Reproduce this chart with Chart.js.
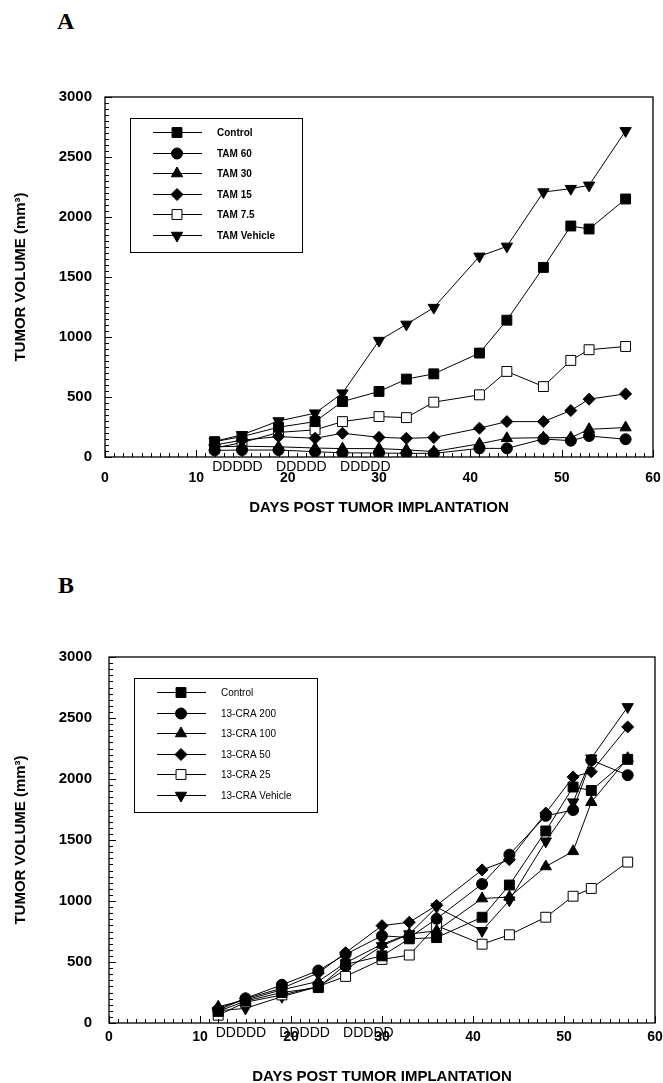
<!DOCTYPE html>
<html>
<head>
<meta charset="utf-8">
<script src="https://cdn.jsdelivr.net/npm/chart.js@4.4.1/dist/chart.umd.min.js"></script>
<style>
  html, body { margin: 0; padding: 0; background: #fff; }
  body { width: 663px; height: 1083px; position: relative; overflow: hidden; }
  .panel-letter { position: absolute; font: bold 24px "Liberation Serif", "Times New Roman", serif; line-height: 24px; color: #000; }
  canvas { position: absolute; left: 0; }
</style>
</head>
<body>
<div class="panel-letter" style="left:57px; top:9px">A</div>
<div class="panel-letter" style="left:58px; top:573px">B</div>
<canvas id="chartA" width="663" height="545" style="top:0"></canvas>
<canvas id="chartB" width="663" height="538" style="top:545px"></canvas>
<script>
// days on which tumour volume was measured (both panels)
const days = [12, 15, 19, 23, 26, 30, 33, 36, 41, 44, 48, 51, 53, 57];
const xTickValues = [0, 10, 20, 30, 40, 50, 60];
const yTickValues = [0, 500, 1000, 1500, 2000, 2500, 3000];
const doseStarts = [12, 19, 26];
const doseLabel = "DDDDD";

// panel A - tamoxifen
const tamLabels = ["Control", "TAM 60", "TAM 30", "TAM 15", "TAM 7.5", "TAM Vehicle"];
const tamControl = [128, 170, 248, 295, 462, 546, 649, 693, 866, 1140, 1580, 1925, 1900, 2150];
const tam60 = [55, 58, 58, 44, 35, 33, 31, 30, 72, 72, 150, 136, 175, 148];
const tam30 = [85, 90, 85, 75, 70, 70, 60, 45, 110, 156, 161, 161, 231, 245];
const tam15 = [100, 140, 170, 156, 198, 164, 156, 162, 240, 295, 295, 387, 482, 526];
const tam7_5 = [75, 120, 205, 226, 295, 337, 328, 457, 518, 713, 587, 805, 894, 921];
const tamVehicle = [130, 185, 300, 365, 532, 970, 1105, 1245, 1672, 1755, 2208, 2236, 2264, 2718];

// panel B - 13-cis retinoic acid
const craLabels = ["Control", "13-CRA 200", "13-CRA 100", "13-CRA 50", "13-CRA 25", "13-CRA Vehicle"];
const craControl = [95, 180, 250, 290, 480, 550, 690, 700, 867, 1131, 1574, 1934, 1906, 2161];
const cra200 = [105, 202, 313, 430, 563, 715, 700, 854, 1139, 1380, 1698, 1746, 2155, 2031];
const cra100 = [133, 189, 272, 341, 493, 646, 729, 756, 1020, 1033, 1283, 1407, 1810, 2170];
const cra50 = [120, 200, 285, 410, 576, 798, 826, 964, 1255, 1338, 1721, 2017, 2059, 2427];
const cra25 = [64, 170, 230, 300, 382, 521, 557, 798, 646, 723, 867, 1039, 1103, 1319];
const craVehicle = [100, 120, 216, 299, 438, 632, 729, 950, 756, 1006, 1490, 1810, 2170, 2591];

const markers = [
  { style: "rect", radius: 7, rotation: 0, fill: "#000" },
  { style: "circle", radius: 5.5, rotation: 0, fill: "#000" },
  { style: "triangle", radius: 6.5, rotation: 0, fill: "#000" },
  { style: "rectRot", radius: 6, rotation: 0, fill: "#000" },
  { style: "rect", radius: 7, rotation: 0, fill: "#fff" },
  { style: "triangle", radius: 6.5, rotation: 180, fill: "#000" },
];

const FONT = '"Liberation Sans", Arial, Helvetica, sans-serif';
Chart.defaults.color = "#000";
Chart.defaults.font.family = FONT;

// frame, inward ticks, dosing marks and the boxed legend
const framePlugin = {
  id: "frame",
  afterDatasetsDraw(chart, args, opts) {
    const { ctx, chartArea: a, scales: { x, y } } = chart;
    ctx.save();
    ctx.strokeStyle = "#000";
    ctx.lineWidth = 1.3;
    ctx.strokeRect(a.left, a.top, a.right - a.left, a.bottom - a.top);

    ctx.lineWidth = 1;
    ctx.beginPath();
    for (let v = y.min; v <= y.max; v += 50) {
      const py = Math.round(y.getPixelForValue(v)) + 0.5;
      const len = v % 500 === 0 ? 7 : 4;
      ctx.moveTo(a.left, py);
      ctx.lineTo(a.left + len, py);
    }
    for (let d = x.min; d <= x.max; d += 1) {
      const px = Math.round(x.getPixelForValue(d)) + 0.5;
      const len = d % 10 === 0 ? 7 : 4;
      ctx.moveTo(px, a.bottom);
      ctx.lineTo(px, a.bottom - len);
    }
    ctx.stroke();

    ctx.fillStyle = "#000";
    ctx.font = "14px " + FONT;
    ctx.textAlign = "center";
    ctx.textBaseline = "middle";
    doseStarts.forEach((s) => ctx.fillText(doseLabel, x.getPixelForValue(s + 2.5), a.bottom + 10));

    // legend
    const bx = Math.round(a.left + 25), by = Math.round(a.top + 21);
    ctx.lineWidth = 1;
    ctx.strokeRect(bx + 0.5, by + 0.5, opts.legendWidth, 134);
    ctx.font = opts.legendFont;
    ctx.textAlign = "left";
    chart.data.datasets.forEach((ds, i) => {
      const ry = Math.round(by + 14 + i * 20.5) + 0.5;
      ctx.beginPath();
      ctx.moveTo(a.left + 48, ry);
      ctx.lineTo(a.left + 97, ry);
      ctx.stroke();
      ctx.fillStyle = ds.pointBackgroundColor;
      Chart.helpers.drawPoint(ctx, {
        pointStyle: ds.pointStyle, radius: ds.pointRadius,
        rotation: ds.pointRotation, borderWidth: 1,
      }, a.left + 72, ry);
      ctx.fillStyle = "#000";
      ctx.fillText(ds.label, a.left + 112, ry + 1);
    });
    ctx.restore();
  },
};

function buildChart(id, labels, series, layout) {
  new Chart(document.getElementById(id), {
    type: "line",
    data: {
      datasets: series.map((vals, i) => ({
        label: labels[i],
        data: days.map((d, j) => ({ x: d, y: vals[j] })),
        borderColor: "#000",
        borderWidth: 1,
        tension: 0,
        fill: false,
        pointStyle: markers[i].style,
        pointRadius: markers[i].radius,
        pointRotation: markers[i].rotation,
        pointBackgroundColor: markers[i].fill,
        pointBorderColor: "#000",
        pointBorderWidth: 1,
      })),
    },
    options: {
      responsive: false,
      animation: false,
      layout: { padding: { top: layout.top, right: layout.right, left: 0, bottom: 0 } },
      plugins: {
        legend: { display: false },
        tooltip: { enabled: false },
        frame: { legendWidth: layout.legendWidth, legendFont: layout.legendFont },
      },
      scales: {
        x: {
          type: "linear",
          min: 0,
          max: 60,
          afterBuildTicks: (s) => { s.ticks = xTickValues.map((v) => ({ value: v })); },
          afterFit: (s) => { s.height = layout.xHeight; s.paddingLeft = 0; s.paddingRight = 0; },
          grid: { display: false, drawTicks: false },
          border: { display: false },
          ticks: {
            font: { size: 14, weight: "bold" }, padding: layout.xPad, maxRotation: 0, autoSkip: false,
            callback: (v) => String(v),
          },
          title: {
            display: true,
            text: "DAYS POST TUMOR IMPLANTATION",
            font: { size: 15, weight: "bold" },
            padding: { top: 0, bottom: layout.xTitlePad },
          },
        },
        y: {
          min: 0,
          max: 3000,
          afterBuildTicks: (s) => { s.ticks = yTickValues.map((v) => ({ value: v })); },
          afterFit: (s) => { s.width = layout.left; s.paddingTop = 0; s.paddingBottom = 0; },
          grid: { display: false, drawTicks: false },
          border: { display: false },
          ticks: { font: { size: 15, weight: "bold" }, padding: layout.yPad, callback: (v) => String(v) },
          title: {
            display: true,
            text: "TUMOR VOLUME (mm³)",
            font: { size: 15, weight: "bold" },
            padding: { top: 12, bottom: 0 },
          },
        },
      },
    },
    plugins: [framePlugin],
  });
}

buildChart("chartA", tamLabels,
  [tamControl, tam60, tam30, tam15, tam7_5, tamVehicle],
  { top: 97, right: 10, left: 105, xHeight: 88, xPad: 13, yPad: 13, xTitlePad: 28,
    legendWidth: 172, legendFont: "bold 10px " + FONT });

buildChart("chartB", craLabels,
  [craControl, cra200, cra100, cra50, cra25, craVehicle],
  { top: 112, right: 7, left: 109, xHeight: 60, xPad: 6, yPad: 17, xTitlePad: -3,
    legendWidth: 183, legendFont: "10px " + FONT });
</script>
</body>
</html>
